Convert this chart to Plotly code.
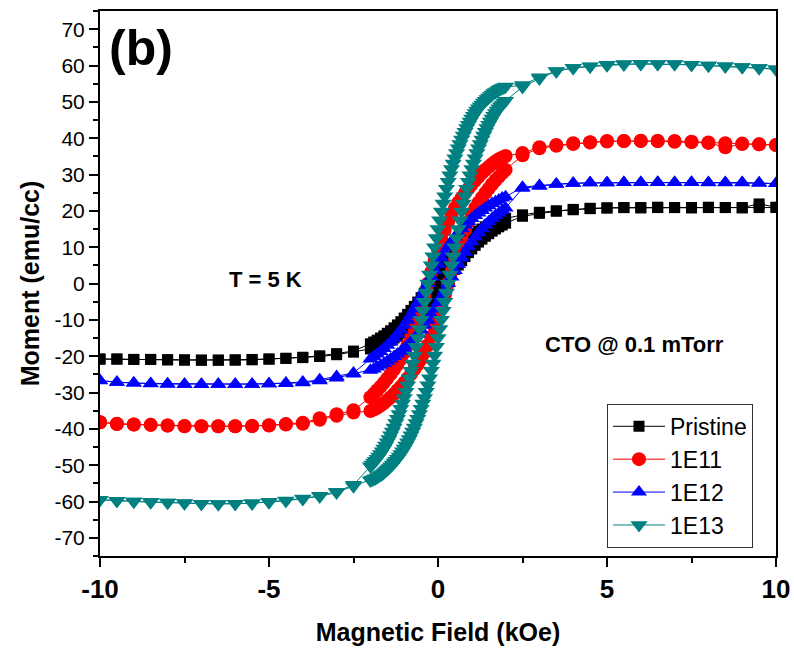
import plotly.graph_objects as go

# Field steps of the M-H sweep (kOe): coarse steps near saturation, fine steps through the switching region
FIELD_HIGH = [10.0, 9.5, 9.0, 8.5, 8.0, 7.5, 7.0, 6.5, 6.0, 5.5, 5.0, 4.5, 4.0, 3.5, 3.0, 2.5]
FIELD_LOW = [-2.5, -3.0, -3.5, -4.0, -4.5, -5.0, -5.5, -6.0, -6.5, -7.0, -7.5, -8.0, -8.5, -9.0, -9.5, -10.0]
FIELD_FINE = [2.0, 1.9, 1.8, 1.7, 1.6, 1.5, 1.4, 1.3, 1.2, 1.1, 1.0, 0.9, 0.8, 0.7, 0.6, 0.5, 0.4, 0.3, 0.2, 0.1,
              0.0, -0.1, -0.2, -0.3, -0.4, -0.5, -0.6, -0.7, -0.8, -0.9, -1.0, -1.1, -1.2, -1.3, -1.4, -1.5,
              -1.6, -1.7, -1.8, -1.9, -2.0]
FIELD_FINER = [2.0, 1.95, 1.9, 1.85, 1.8, 1.75, 1.7, 1.65, 1.6, 1.55, 1.5, 1.45, 1.4, 1.35, 1.3, 1.25, 1.2,
               1.15, 1.1, 1.05, 1.0, 0.95, 0.9, 0.85, 0.8, 0.75, 0.7, 0.65, 0.6, 0.55, 0.5, 0.45, 0.4, 0.35,
               0.3, 0.25, 0.2, 0.15, 0.1, 0.05, 0.0, -0.05, -0.1, -0.15, -0.2, -0.25, -0.3, -0.35, -0.4,
               -0.45, -0.5, -0.55, -0.6, -0.65, -0.7, -0.75, -0.8, -0.85, -0.9, -0.95, -1.0, -1.05, -1.1,
               -1.15, -1.2, -1.25, -1.3, -1.35, -1.4, -1.45, -1.5, -1.55, -1.6, -1.65, -1.7, -1.75, -1.8,
               -1.85, -1.9, -1.95, -2.0]

# Axis ticks
X_TICKS = [-10, -5, 0, 5, 10]
X_TICK_TEXT = ["-10", "-5", "0", "5", "10"]
Y_TICKS = [-70, -60, -50, -40, -30, -20, -10, 0, 10, 20, 30, 40, 50, 60, 70]
Y_TICK_TEXT = ["-70", "-60", "-50", "-40", "-30", "-20", "-10", "0", "10", "20", "30", "40", "50", "60", "70"]

# Pristine moment (emu/cc)
PRISTINE_DOWN_HIGH = [21.0, 21.9, 20.9, 20.9, 21.0, 20.9, 20.9, 21.0, 20.9, 20.9, 20.8, 20.7, 20.4, 20.0, 19.6, 18.9]
PRISTINE_DOWN_FINE = [18.0, 17.7, 17.4, 17.0, 16.6, 16.1, 15.6, 15.0, 14.4, 13.7, 13.0, 12.2, 11.4, 10.5, 9.5,
                      8.5, 7.4, 6.3, 5.1, 3.9, 2.6, 1.3, 0.0, -1.3, -2.6, -3.9, -5.1, -6.3, -7.4, -8.5, -9.5,
                      -10.5, -11.4, -12.2, -13.0, -13.7, -14.4, -15.0, -15.6, -16.1, -16.6]
PRISTINE_DOWN_LOW = [-18.6, -19.3, -19.9, -20.3, -20.6, -20.8, -21.0, -21.1, -21.1, -21.1, -21.0, -21.0, -20.9,
                     -20.9, -20.8, -20.8]
PRISTINE_UP_LOW = [-20.8, -20.8, -20.9, -20.9, -21.0, -21.1, -21.1, -21.1, -21.0, -20.9, -20.8, -20.6, -20.4,
                   -20.1, -19.6, -18.9]
PRISTINE_UP_FINE = [-18.0, -17.7, -17.4, -17.0, -16.6, -16.1, -15.6, -15.0, -14.4, -13.7, -13.0, -12.2, -11.4,
                    -10.5, -9.5, -8.5, -7.4, -6.3, -5.1, -3.9, -2.6, -1.3, 0.0, 1.3, 2.6, 3.9, 5.1, 6.3, 7.4,
                    8.5, 9.5, 10.5, 11.4, 12.2, 13.0, 13.7, 14.4, 15.0, 15.6, 16.1, 16.6]
PRISTINE_UP_HIGH = [18.5, 19.3, 19.9, 20.3, 20.6, 20.8, 20.9, 20.8, 20.9, 20.9, 20.8, 20.9, 20.9, 20.8, 20.9, 20.9]

# 1E11 moment (emu/cc)
E11_DOWN_HIGH = [38.1, 38.3, 38.5, 38.6, 38.8, 39.0, 39.2, 39.2, 39.3, 39.2, 39.2, 38.9, 38.6, 38.1, 37.5, 35.9]
E11_DOWN_FINE = [35.1, 34.7, 34.2, 33.6, 32.9, 32.1, 31.3, 30.4, 29.4, 28.4, 27.3, 26.1, 24.9, 23.6, 22.3, 20.8,
                 19.0, 17.0, 14.7, 12.1, 9.3, 6.3, 3.2, 0.0, -3.2, -6.3, -9.3, -12.1, -14.7, -17.0, -19.0,
                 -20.8, -22.3, -23.6, -24.9, -26.1, -27.3, -28.4, -29.4, -30.4, -31.3]
E11_DOWN_LOW = [-34.9, -36.0, -37.1, -38.3, -38.7, -39.0, -39.2, -39.3, -39.3, -39.3, -39.2, -39.1, -38.9, -38.8,
                -38.7, -38.2]
E11_UP_LOW = [-38.2, -38.6, -38.8, -38.9, -39.1, -39.3, -39.3, -39.3, -39.3, -39.2, -39.1, -38.8, -38.6, -37.5,
              -36.4, -35.5]
E11_UP_FINE = [-35.1, -34.7, -34.2, -33.6, -32.9, -32.1, -31.3, -30.4, -29.4, -28.4, -27.3, -26.1, -24.9, -23.6,
               -22.3, -20.8, -19.0, -17.0, -14.7, -12.1, -9.3, -6.3, -3.2, 0.0, 3.2, 6.3, 9.3, 12.1, 14.7, 17.0,
               19.0, 20.8, 22.3, 23.6, 24.9, 26.1, 27.3, 28.4, 29.4, 30.4, 31.3]
E11_UP_HIGH = [35.3, 37.2, 37.9, 38.4, 38.8, 39.1, 39.2, 39.2, 39.2, 39.0, 38.9, 38.7, 37.5, 38.4, 38.3, 38.1]

# 1E12 moment (emu/cc)
E12_DOWN_HIGH = [27.5, 27.7, 27.8, 27.8, 27.8, 27.9, 27.8, 27.9, 27.8, 27.8, 27.7, 27.7, 27.6, 27.4, 27.0, 26.5]
E12_DOWN_FINE = [23.9, 23.5, 23.0, 22.5, 22.0, 21.4, 20.8, 20.1, 19.4, 18.7, 17.9, 17.0, 16.1, 15.1, 14.0, 12.8,
                 11.5, 10.1, 8.6, 7.0, 5.3, 3.6, 1.8, 0.0, -1.8, -3.6, -5.3, -7.0, -8.6, -10.1, -11.5, -12.8,
                 -14.0, -15.1, -16.1, -17.0, -17.9, -18.7, -19.4, -20.1, -20.8]
E12_DOWN_LOW = [-24.6, -25.6, -26.5, -27.1, -27.4, -27.6, -27.7, -27.7, -27.7, -27.7, -27.7, -27.6, -27.5, -27.4,
                -27.2, -26.8]
E12_UP_LOW = [-26.7, -27.2, -27.4, -27.6, -27.7, -27.7, -27.8, -27.7, -27.7, -27.7, -27.6, -27.5, -27.3, -26.8,
              -26.0, -24.9]
E12_UP_FINE = [-23.9, -23.5, -23.0, -22.5, -22.0, -21.4, -20.8, -20.1, -19.4, -18.7, -17.9, -17.0, -16.1, -15.1,
               -14.0, -12.8, -11.5, -10.1, -8.6, -7.0, -5.3, -3.6, -1.8, 0.0, 1.8, 3.6, 5.3, 7.0, 8.6, 10.1,
               11.5, 12.8, 14.0, 15.1, 16.1, 17.0, 17.9, 18.7, 19.4, 20.1, 20.8]
E12_UP_HIGH = [26.2, 26.8, 27.3, 27.6, 27.7, 27.7, 27.8, 27.8, 27.8, 27.8, 27.8, 27.7, 27.7, 27.7, 27.6, 27.5]

# 1E13 moment (emu/cc), measured on the finer field steps
E13_DOWN_HIGH = [59.0, 59.3, 59.6, 59.8, 60.0, 60.2, 60.4, 60.4, 60.5, 60.4, 60.2, 59.8, 59.4, 58.5, 56.8, 54.6]
E13_DOWN_FINE = [54.2, 54.0, 53.8, 53.6, 53.3, 53.0, 52.7, 52.4, 52.0, 51.6, 51.2, 50.8, 50.3, 49.8, 49.3, 48.8,
                 48.2, 47.6, 46.9, 46.2, 45.4, 44.6, 43.7, 42.8, 41.8, 40.7, 39.6, 38.4, 37.2, 35.9, 34.5, 33.0,
                 31.5, 29.8, 28.0, 26.1, 24.0, 22.0, 19.8, 17.4, 15.0, 12.5, 10.0, 7.5, 5.0, 2.5, 0.0, -2.5,
                 -5.0, -7.5, -10.0, -12.5, -15.0, -17.4, -19.8, -22.0, -24.0, -26.1, -28.0, -29.8, -31.5, -33.0,
                 -34.5, -35.9, -37.2, -38.4, -39.6, -40.7, -41.8, -42.8, -43.7, -44.6, -45.4, -46.2, -46.9,
                 -47.6, -48.2, -48.8, -49.3, -49.8, -50.3]
E13_DOWN_LOW = [-55.4, -57.3, -58.4, -59.2, -59.7, -60.1, -60.5, -60.6, -60.7, -60.6, -60.4, -60.3, -60.1, -60.0,
                -59.8, -59.5]
E13_UP_LOW = [-59.5, -59.8, -60.0, -60.2, -60.3, -60.5, -60.6, -60.7, -60.6, -60.5, -60.2, -59.8, -59.3, -58.6,
              -57.5, -55.8]
E13_UP_FINE = [-54.2, -54.0, -53.8, -53.6, -53.3, -53.0, -52.7, -52.4, -52.0, -51.6, -51.2, -50.8, -50.3, -49.8,
               -49.3, -48.8, -48.2, -47.6, -46.9, -46.2, -45.4, -44.6, -43.7, -42.8, -41.8, -40.7, -39.6, -38.4,
               -37.2, -35.9, -34.5, -33.0, -31.5, -29.8, -28.0, -26.1, -24.0, -22.0, -19.8, -17.4, -15.0, -12.5,
               -10.0, -7.5, -5.0, -2.5, 0.0, 2.5, 5.0, 7.5, 10.0, 12.5, 15.0, 17.4, 19.8, 22.0, 24.0, 26.1,
               28.0, 29.8, 31.5, 33.0, 34.5, 35.9, 37.2, 38.4, 39.6, 40.7, 41.8, 42.8, 43.7, 44.6, 45.4, 46.2,
               46.9, 47.6, 48.2, 48.8, 49.3, 49.8, 50.3]
E13_UP_HIGH = [54.1, 56.4, 58.4, 59.3, 59.7, 60.1, 60.3, 60.4, 60.4, 60.4, 60.2, 60.0, 59.8, 59.6, 59.3, 59.0]

SAMPLE_NAMES = ["Pristine", "1E11", "1E12", "1E13"]
COLORS = ["#000000", "#ff0000", "#0000ff", "#008080"]
SYMBOLS = ["square", "circle", "triangle-up", "triangle-down"]
MARKER_SIZES = [11, 14, 14, 15]


def full_loop(fine, down_high, down_fine, down_low, up_low, up_fine, up_high):
    """Join the +10 -> -10 kOe and -10 -> +10 kOe sweeps into one closed loop."""
    field_down = FIELD_HIGH + fine + FIELD_LOW
    field_up = field_down[::-1]
    moment = down_high + down_fine + down_low + up_low + up_fine + up_high
    return field_down + field_up, moment


loops = [
    full_loop(FIELD_FINE, PRISTINE_DOWN_HIGH, PRISTINE_DOWN_FINE, PRISTINE_DOWN_LOW,
              PRISTINE_UP_LOW, PRISTINE_UP_FINE, PRISTINE_UP_HIGH),
    full_loop(FIELD_FINE, E11_DOWN_HIGH, E11_DOWN_FINE, E11_DOWN_LOW,
              E11_UP_LOW, E11_UP_FINE, E11_UP_HIGH),
    full_loop(FIELD_FINE, E12_DOWN_HIGH, E12_DOWN_FINE, E12_DOWN_LOW,
              E12_UP_LOW, E12_UP_FINE, E12_UP_HIGH),
    full_loop(FIELD_FINER, E13_DOWN_HIGH, E13_DOWN_FINE, E13_DOWN_LOW,
              E13_UP_LOW, E13_UP_FINE, E13_UP_HIGH),
]

FONT = "Liberation Sans, Arial, sans-serif"

fig = go.Figure()
for (field, moment), name, color, symbol, size in zip(loops, SAMPLE_NAMES, COLORS, SYMBOLS, MARKER_SIZES):
    fig.add_trace(go.Scatter(
        x=field, y=moment, name=name, mode="lines+markers",
        line=dict(color=color, width=1),
        marker=dict(symbol=symbol, size=size, color=color, line=dict(width=0)),
    ))

axis_common = dict(
    showline=True, linecolor="black", linewidth=2, mirror=True,
    ticks="outside", ticklen=9, tickwidth=2, tickcolor="black",
    showgrid=False, zeroline=False, automargin=False, tickmode="array",
)

fig.update_layout(
    width=794, height=651,
    margin=dict(l=100, r=18, t=11, b=95),
    paper_bgcolor="white", plot_bgcolor="white",
    font=dict(family=FONT, color="black"),
    showlegend=True,
    legend=dict(
        x=0.75, y=0.015, xanchor="left", yanchor="bottom",
        bgcolor="white", bordercolor="#333333", borderwidth=1,
        font=dict(family=FONT, size=23, color="black"),
        itemwidth=52, tracegroupgap=0,
    ),
    xaxis=dict(
        range=[-10, 10], tickvals=X_TICKS, ticktext=X_TICK_TEXT,
        minor=dict(tickmode="linear", tick0=0, dtick=2.5, ticks="outside", ticklen=5, tickwidth=2,
                   tickcolor="black"),
        tickfont=dict(family=FONT, size=26, weight="bold"),
        title=dict(text="Magnetic Field (kOe)", font=dict(family=FONT, size=25, weight="bold"), standoff=20),
        **axis_common,
    ),
    yaxis=dict(
        range=[-75, 75], tickvals=Y_TICKS, ticktext=Y_TICK_TEXT,
        minor=dict(tickmode="linear", tick0=0, dtick=5, ticks="outside", ticklen=5, tickwidth=2,
                   tickcolor="black"),
        tickfont=dict(family=FONT, size=21),
        title=dict(text="Moment (emu/cc)", font=dict(family=FONT, size=25, weight="bold"), standoff=8),
        **axis_common,
    ),
    annotations=[
        dict(text="(b)", xref="paper", yref="paper", x=0.01, y=0.932, xanchor="left", yanchor="middle",
             showarrow=False, font=dict(family=FONT, size=50, weight="bold")),
        dict(text="T = 5 K", xref="x", yref="y", x=-5.1, y=1.0, showarrow=False,
             font=dict(family=FONT, size=22, weight="bold")),
        dict(text="CTO @ 0.1 mTorr", xref="x", yref="y", x=5.8, y=-16.9, showarrow=False,
             font=dict(family=FONT, size=22, weight="bold")),
    ],
)

fig.write_html("out.html")
